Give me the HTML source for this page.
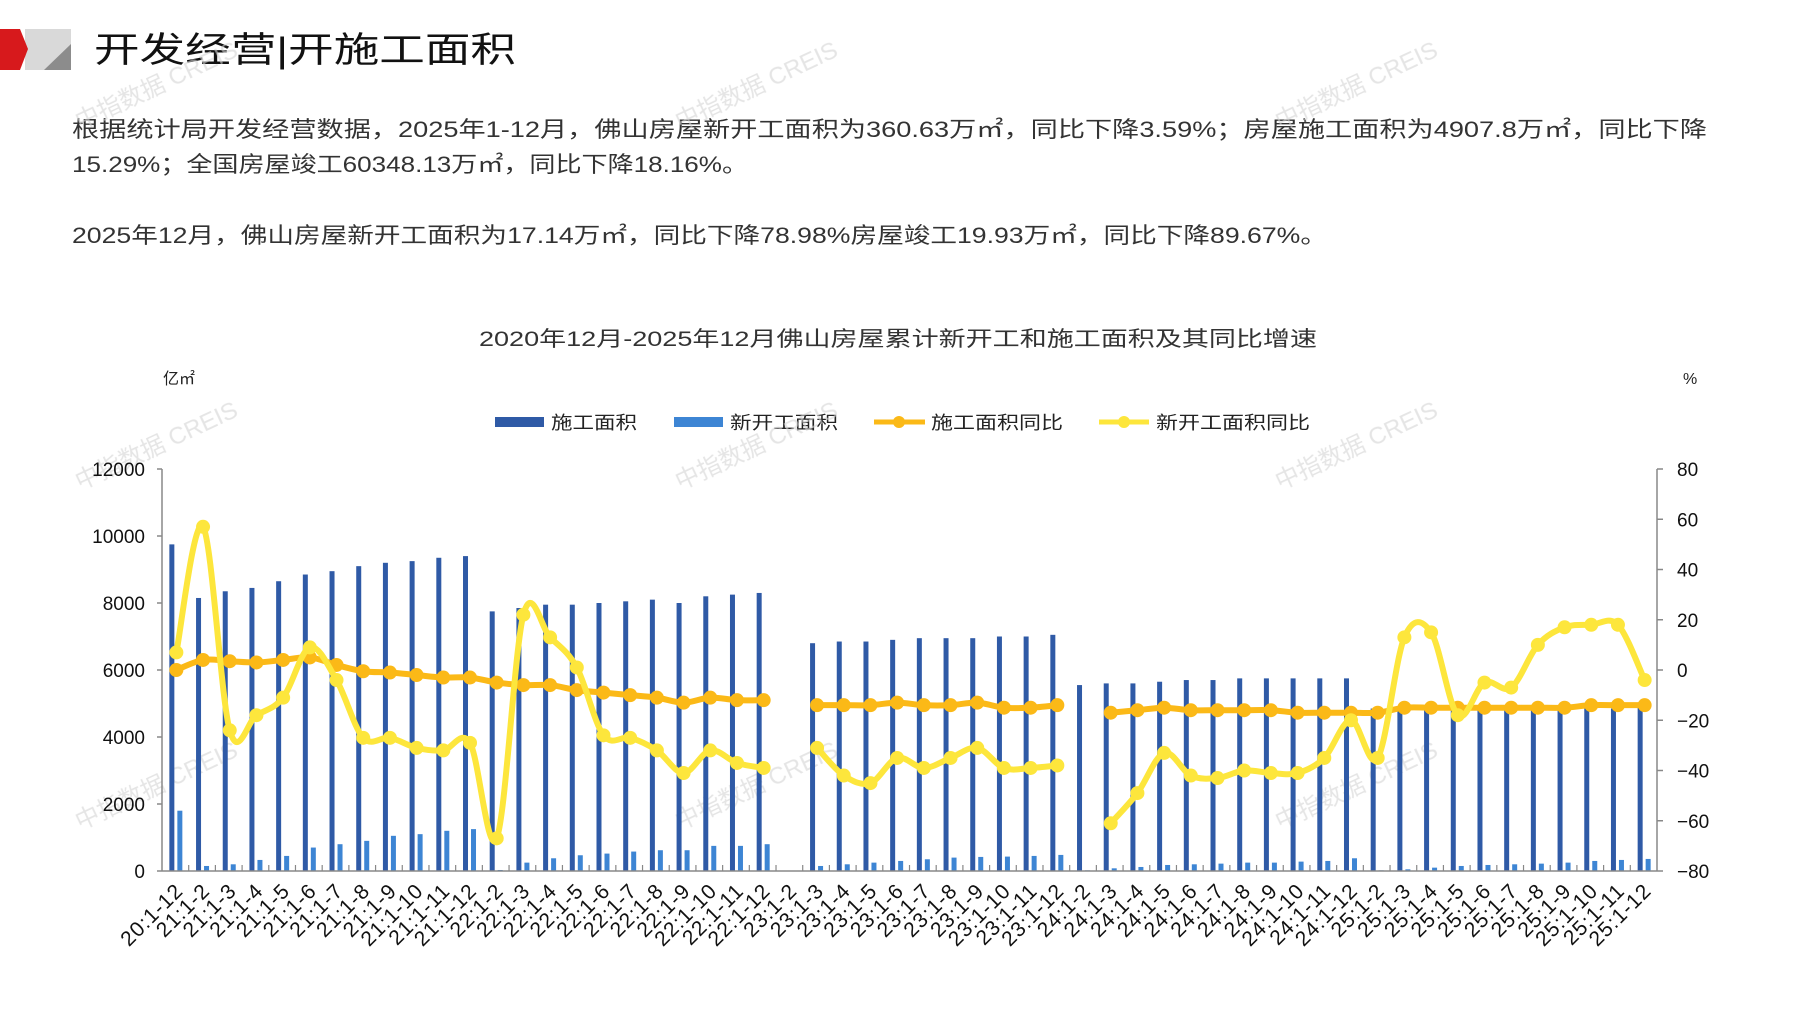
<!DOCTYPE html>
<html><head><meta charset="utf-8">
<style>
html,body{margin:0;padding:0;background:#fff;}
svg{display:block;}
text{font-family:"Liberation Sans","Noto Sans CJK SC",sans-serif;}
</style></head>
<body>
<svg id="s" width="1797" height="1010" viewBox="0 0 1797 1010" xmlns="http://www.w3.org/2000/svg">
<rect width="1797" height="1010" fill="#fff"/>
<polygon points="25,29 71,29 71,70 25,70" fill="#d9d9d9"/>
<polygon points="44,70 71,44 71,70" fill="#8c8c8c"/>
<polygon points="0,29 20,29 28,49 20,70 0,70" fill="#d7191c"/>
<text x="94" y="62" font-size="35" fill="#111" textLength="422" lengthAdjust="spacingAndGlyphs">开发经营|开施工面积</text>
<g font-size="22" fill="#333">
<text x="72" y="137" textLength="1635" lengthAdjust="spacingAndGlyphs">根据统计局开发经营数据，2025年1-12月，佛山房屋新开工面积为360.63万㎡，同比下降3.59%；房屋施工面积为4907.8万㎡，同比下降</text>
<text x="72" y="172" textLength="676" lengthAdjust="spacingAndGlyphs">15.29%；全国房屋竣工60348.13万㎡，同比下降18.16%。</text>
<text x="72" y="243" textLength="1255" lengthAdjust="spacingAndGlyphs">2025年12月，佛山房屋新开工面积为17.14万㎡，同比下降78.98%房屋竣工19.93万㎡，同比下降89.67%。</text>
</g>
<text x="479" y="346" font-size="21" fill="#333" textLength="838" lengthAdjust="spacingAndGlyphs">2020年12月-2025年12月佛山房屋累计新开工和施工面积及其同比增速</text>
<text x="163" y="384" font-size="16" fill="#222">亿㎡</text>
<text x="1683" y="384" font-size="16" fill="#222">%</text>
<g font-size="18" fill="#222">
<rect x="495" y="417" width="49" height="10" fill="#2f5aa6"/><text x="551" y="429" textLength="86" lengthAdjust="spacingAndGlyphs">施工面积</text>
<rect x="674" y="417" width="49" height="10" fill="#3d85d4"/><text x="730" y="429" textLength="108" lengthAdjust="spacingAndGlyphs">新开工面积</text>
<line x1="874" y1="422" x2="925" y2="422" stroke="#fbb917" stroke-width="5"/><circle cx="899" cy="422" r="6" fill="#fbb917"/><text x="931" y="429" textLength="132" lengthAdjust="spacingAndGlyphs">施工面积同比</text>
<line x1="1099" y1="422" x2="1149" y2="422" stroke="#fde63c" stroke-width="5"/><circle cx="1124" cy="422" r="6" fill="#fde63c"/><text x="1156" y="429" textLength="154" lengthAdjust="spacingAndGlyphs">新开工面积同比</text>
</g>
<g id="wm" font-size="24" fill="#d4d4d4" opacity="0.6"></g>
<g id="chart"></g>
</svg>
<script>
var NS="http://www.w3.org/2000/svg";
function el(t,a,p,txt){var e=document.createElementNS(NS,t);for(var k in a)e.setAttribute(k,a[k]);if(txt!=null)e.textContent=txt;(p||document.getElementById('chart')).appendChild(e);return e;}
var X0=162,X1=1657,Y0=871,Y1=469,N=56,W=(X1-X0)/N;
function yl(v){return Y0-(v/12000)*(Y0-Y1);}
function yr(v){return Y0-((v+80)/160)*(Y0-Y1);}
var labels=["20:1-12"];
["21","22","23","24","25"].forEach(function(y){for(var m=2;m<=12;m++)labels.push(y+":1-"+m);});
var dark=[9750,8150,8350,8450,8650,8850,8950,9100,9200,9250,9350,9400,
7750,7850,7950,7950,8000,8050,8100,8000,8200,8250,8300,
null,6800,6850,6850,6900,6950,6950,6950,7000,7000,7050,
5550,5600,5600,5650,5700,5700,5750,5750,5750,5750,5750,
4850,4850,4850,4850,4850,4850,4850,4850,4850,4850,4900];
var light=[1800,150,200,330,450,700,800,900,1050,1100,1200,1250,
30,250,380,470,520,580,620,620,750,750,800,
0,150,200,250,300,350,400,420,430,450,480,
20,80,120,180,200,220,250,250,280,300,380,
20,50,100,150,180,200,220,250,300,330,360];
var org=[0,4,3.5,3,4,5,2,-0.5,-1,-2,-3,-3,
-5,-6,-6,-8,-9,-10,-11,-13,-11,-12,-12,
null,-14,-14,-14,-13,-14,-14,-13,-15,-15,-14,
null,-17,-16,-15,-16,-16,-16,-16,-17,-17,-17,
-17,-15,-15,-15,-15,-15,-15,-15,-14,-14,-14,-15];
var yel=[7,57,-24,-18,-11,9,-4,-27,-27,-31,-32,-29,
-67,22,13,1,-26,-27,-32,-41,-32,-37,-39,
null,-31,-42,-45,-35,-39,-35,-31,-39,-39,-38,
null,-61,-49,-33,-42,-43,-40,-41,-41,-35,-20,
-35,13,15,-18,-5,-7,10,17,18,18,-4];
var g=document.getElementById('chart');
for(var i=0;i<N;i++){var c=X0+W*(i+0.5);
 if(dark[i]!=null)el('rect',{x:c-6,y:yl(dark[i]),width:5,height:Y0-yl(dark[i]),fill:'#2f5aa6'},g);
 if(light[i])el('rect',{x:c+2,y:yl(light[i]),width:5,height:Y0-yl(light[i]),fill:'#3d85d4'},g);
}
el('line',{x1:X0,y1:Y1,x2:X0,y2:Y0,stroke:'#888','stroke-width':1.5},g);
el('line',{x1:X1,y1:Y1,x2:X1,y2:Y0,stroke:'#888','stroke-width':1.5},g);
el('line',{x1:X0,y1:Y0,x2:X1,y2:Y0,stroke:'#888','stroke-width':1.5},g);
for(var v=0;v<=12000;v+=2000){var y=yl(v);el('line',{x1:X0-5,y1:y,x2:X0,y2:y,stroke:'#888','stroke-width':1.5},g);
 el('text',{x:145,y:y+7,'font-size':19,'text-anchor':'end',fill:'#111'},g,String(v));}
for(var v=-80;v<=80;v+=20){var y=yr(v);el('line',{x1:X1,y1:y,x2:X1+6,y2:y,stroke:'#888','stroke-width':1.5},g);
 el('text',{x:1677,y:y+7,'font-size':19,fill:'#111'},g,(v<0?'\u2212'+(-v):String(v)));}
for(var i=1;i<N;i++){var x=X0+W*i;el('line',{x1:x,y1:Y0-6,x2:x,y2:Y0,stroke:'#888','stroke-width':1.2},g);}
for(var i=0;i<N;i++){var c=X0+W*(i+0.5)+9;
 el('text',{x:c,y:892,'font-size':21,'text-anchor':'end',fill:'#111','letter-spacing':'1',transform:'rotate(-45 '+c+' 892)'},g,labels[i]);}
function drawLine(arr,col){
 var segs=[],cur=[];
 for(var i=0;i<N;i++){if(arr[i]==null){if(cur.length)segs.push(cur);cur=[];}else cur.push([X0+W*(i+0.5)+1,yr(arr[i])]);}
 if(cur.length)segs.push(cur);
 segs.forEach(function(p){
  var d='M'+p[0][0]+','+p[0][1];
  for(var k=0;k<p.length-1;k++){
   var p0=p[k-1]||p[k],p1=p[k],p2=p[k+1],p3=p[k+2]||p[k+1],t=1/6;
   d+=' C'+(p1[0]+(p2[0]-p0[0])*t)+','+(p1[1]+(p2[1]-p0[1])*t)+' '+(p2[0]-(p3[0]-p1[0])*t)+','+(p2[1]-(p3[1]-p1[1])*t)+' '+p2[0]+','+p2[1];
  }
  el('path',{d:d,fill:'none',stroke:col,'stroke-width':6,'stroke-linejoin':'round'},g);
  p.forEach(function(q){el('circle',{cx:q[0],cy:q[1],r:7,fill:col},g);});
 });
}
drawLine(org,'#fbb917');
drawLine(yel,'#fde63c');
var wm=document.getElementById('wm');
[[80,130],[680,130],[1280,130],[80,490],[680,490],[1280,490],[80,830],[680,830],[1280,830]].forEach(function(p){
 el('text',{x:p[0],y:p[1],transform:'rotate(-25 '+p[0]+' '+p[1]+')'},wm,'中指数据 CREIS');});
</script>
</body></html>
